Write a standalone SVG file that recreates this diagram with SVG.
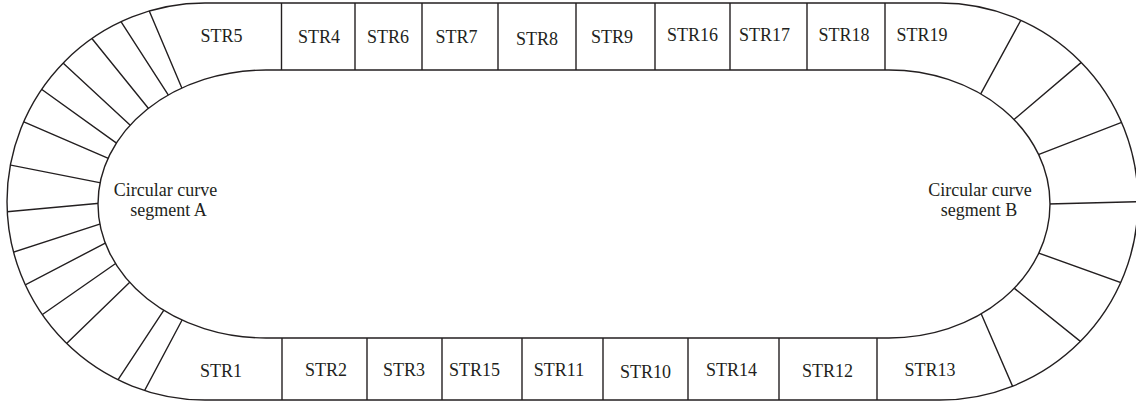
<svg xmlns="http://www.w3.org/2000/svg" width="1136" height="403" viewBox="0 0 1136 403">
<style>
.ln{fill:none;stroke:#231f20;stroke-width:1.4}
.lb{font-family:"Liberation Serif","Times New Roman",serif;font-size:18px;fill:#231f20;text-anchor:middle}
</style>
<defs>
<clipPath id="ring">
<path clip-rule="evenodd" d="M205,3 H940 A198,198.5 0 0 1 940,400 H205 A198,198.5 0 0 1 205,3 Z M266,70 H889 A161,134 0 0 1 889,338 H266 A168,134 0 0 1 266,70 Z"/>
</clipPath>
</defs>
<rect width="1136" height="403" fill="#fff"/>
<g id="track" class="ln">
<path d="M205,3 H940 A198,198.5 0 0 1 940,400 H205 A198,198.5 0 0 1 205,3 Z"/>
<path d="M266,70 H889 A161,134 0 0 1 889,338 H266 A168,134 0 0 1 266,70 Z"/>
</g>
<g id="connectors" class="ln" clip-path="url(#ring)">
<path d="M281.5,0 V75 M355,0 V75 M422,0 V75 M498,0 V75 M576,0 V75 M655,0 V75 M730,0 V75 M807,0 V75 M885,0 V75"/>
<path d="M282,333 V403 M367,333 V403 M442,333 V403 M522,333 V403 M603,333 V403 M688,333 V403 M779,333 V403 M877,333 V403"/>
<path d="M186.6,99.2 L144.4,-0.5 M175.3,105.8 L114.7,11.9 M156.8,118.8 L83.2,27.8 M140,134.3 L53.3,54 M128,151.4 L30.4,81.2 M121.1,163.8 L10.5,116.2 M113.5,185.4 L-3.5,162.3 M113.2,202 L-7.2,213 M112.8,219.8 L2.2,255.9 M118.2,236.4 L12.8,291.3 M127.1,255.5 L30.6,322.8 M138.8,273.5 L56.5,353.2 M170.3,300.4 L109.7,392.3 M187.4,310 L138.3,402.4"/>
<path d="M975,104.3 L1027,9 M1004.1,127.9 L1092.2,53.1 M1026.7,159.2 L1135.9,116.8 M1038.2,204.3 L1148.8,201.4 M1026.8,248.8 L1135.2,287.8 M1004.1,280.1 L1092.2,350.9 M976.2,302.3 L1017.5,397.7"/>
</g>
<g id="curveA" class="lb"><text x="165.5" y="196">Circular curve</text><text x="168.5" y="216">segment A</text></g>
<g id="curveB" class="lb"><text x="980" y="196">Circular curve</text><text x="979" y="216">segment B</text></g>
<g id="STR5"><text class="lb" x="221.5" y="42">STR5</text></g>
<g id="STR4"><text class="lb" x="319" y="42.5">STR4</text></g>
<g id="STR6"><text class="lb" x="388" y="42.5">STR6</text></g>
<g id="STR7"><text class="lb" x="456.5" y="42.5">STR7</text></g>
<g id="STR8"><text class="lb" x="537" y="45">STR8</text></g>
<g id="STR9"><text class="lb" x="612" y="42.5">STR9</text></g>
<g id="STR16"><text class="lb" x="692.5" y="40.5">STR16</text></g>
<g id="STR17"><text class="lb" x="764.5" y="40.5">STR17</text></g>
<g id="STR18"><text class="lb" x="844" y="40.5">STR18</text></g>
<g id="STR19"><text class="lb" x="922" y="40.5">STR19</text></g>
<g id="STR1"><text class="lb" x="221" y="376.5">STR1</text></g>
<g id="STR2"><text class="lb" x="326" y="376">STR2</text></g>
<g id="STR3"><text class="lb" x="404" y="376">STR3</text></g>
<g id="STR15"><text class="lb" x="474.5" y="376">STR15</text></g>
<g id="STR11"><text class="lb" x="559" y="376">STR11</text></g>
<g id="STR10"><text class="lb" x="645.5" y="378">STR10</text></g>
<g id="STR14"><text class="lb" x="731.5" y="376">STR14</text></g>
<g id="STR12"><text class="lb" x="827.5" y="377">STR12</text></g>
<g id="STR13"><text class="lb" x="930" y="376">STR13</text></g>
</svg>
